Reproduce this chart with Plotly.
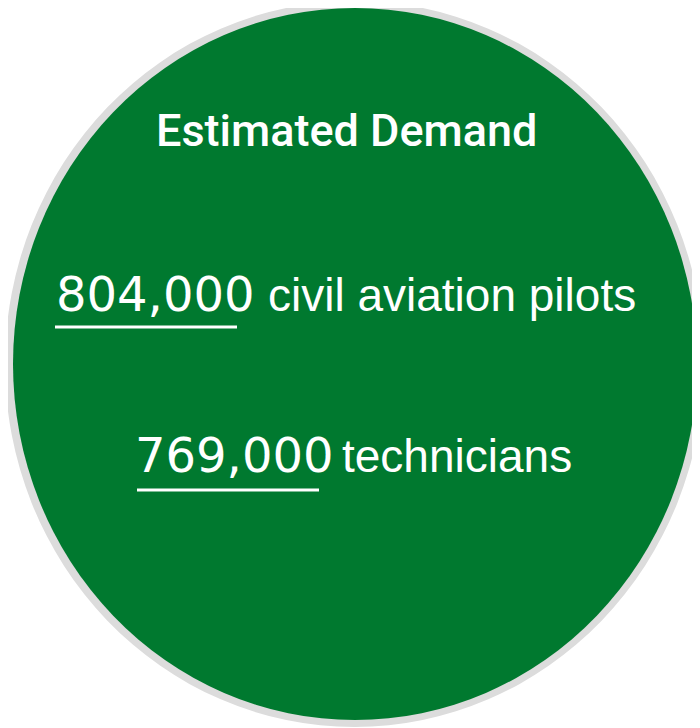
import plotly.graph_objects as go

# Data
title_text = "Estimated Demand"
categories = ["civil aviation pilots", "technicians"]
values = [804000, 769000]

GREEN = "#00792f"
GRAY = "#dcdcdc"
FONT = "Liberation Sans, Arial, sans-serif"
TITLE_FONT = "Roboto, Liberation Sans, sans-serif"
NUM_FONT = "DejaVu Sans, Liberation Sans, sans-serif"

# page has an 8px body margin; map data coords directly to page pixels
OFF = 8

fig = go.Figure()
fig.add_trace(go.Scatter(x=[OFF, 700 + OFF], y=[OFF, 728 + OFF], mode="markers",
                         marker=dict(opacity=0), hoverinfo="skip", showlegend=False))

shapes = [
    dict(type="circle", xref="x", yref="y", x0=5, x1=704, y0=1, y1=727,
         fillcolor=GRAY, line=dict(width=0), layer="below"),
    dict(type="circle", xref="x", yref="y", x0=13, x1=697, y0=8, y1=720,
         fillcolor=GREEN, line=dict(width=0), layer="below"),
]

annotations = [
    dict(x=346, y=130, xref="x", yref="y", text=title_text, showarrow=False,
         xanchor="center", yanchor="middle",
         font=dict(family=TITLE_FONT, size=45, color="white", weight=500)),
]

# layout: (number left x, label left x, center y, underline x0, x1, y)
rows = [(54, 266, 294, 55, 237, 327), (133, 340, 455, 137, 319, 490)]
for (nx, lx, cy, u0, u1, uy), cat, val in zip(rows, categories, values):
    annotations.append(dict(x=nx, y=cy, xref="x", yref="y",
                            text=f"{val:,}", showarrow=False,
                            xanchor="left", yanchor="middle",
                            font=dict(family=NUM_FONT, size=48, color="white")))
    annotations.append(dict(x=lx, y=cy + 1, xref="x", yref="y",
                            text=cat, showarrow=False,
                            xanchor="left", yanchor="middle",
                            font=dict(family=FONT, size=46, color="white")))
    shapes.append(dict(type="line", xref="x", yref="y", x0=u0, x1=u1, y0=uy, y1=uy,
                       line=dict(color="white", width=3)))

fig.update_layout(
    width=700, height=728,
    margin=dict(l=0, r=0, t=0, b=0),
    paper_bgcolor="white", plot_bgcolor="white",
    xaxis=dict(range=[OFF, 700 + OFF], visible=False, fixedrange=True),
    yaxis=dict(range=[728 + OFF, OFF], visible=False, fixedrange=True),
    shapes=shapes, annotations=annotations,
    showlegend=False,
)

fig.write_html("out.html", config={"displayModeBar": False})
